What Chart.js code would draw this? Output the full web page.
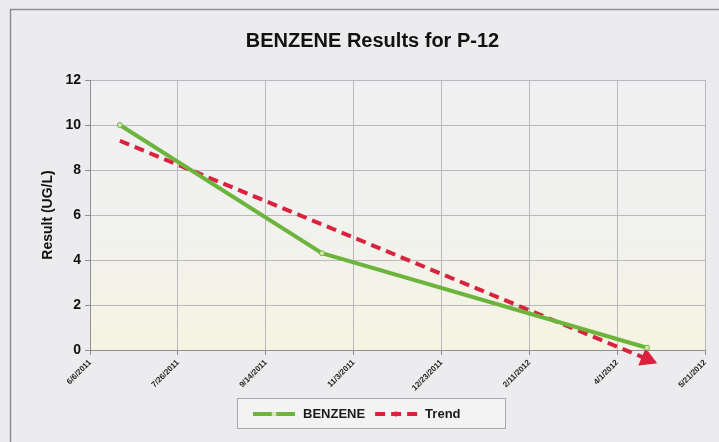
<!DOCTYPE html>
<html>
<head>
<meta charset="utf-8">
<script src="https://cdn.jsdelivr.net/npm/chart.js@4/dist/chart.umd.min.js"></script>
<style>
  html, body { margin: 0; padding: 0; background: #ededef; }
  #wrap { width: 719px; height: 442px; position: relative; }
</style>
</head>
<body>
<div id="wrap"><canvas id="myChart" width="719" height="442"></canvas></div>
<script>
const ctx = document.getElementById('myChart');

// axis starts on 6/6/2011, ticks every 50 days
const startDate = new Date(2011, 5, 6);
const tickStep = 50;
const tickCount = 7;

const benzeneDates = ['2011-06-23', '2011-10-16', '2012-04-18'];
const benzeneValues = [10, 4.3, 0.1];

const trendDates = ['2011-06-23', '2012-04-18'];
const trendValues = [9.3, -0.4];

const yTicks = [0, 2, 4, 6, 8, 10, 12];

const dayOf = function (s) {
    const p = s.split('-');
    const d = new Date(+p[0], +p[1] - 1, +p[2]);
    return Math.round((d - startDate) / 86400000);
};

const fmtDay = function (n) {
    const d = new Date(startDate.getTime() + n * 86400000);
    return (d.getMonth() + 1) + '/' + d.getDate() + '/' + d.getFullYear();
};

const toPoints = (dates, vals) => dates.map((d, i) => ({ x: dayOf(d), y: vals[i] }));

// plot background + frame
const bgPlugin = {
    id: 'bg',
    beforeDraw(chart) {
        const c = chart.ctx;
        const a = chart.chartArea;
        c.save();
        c.fillStyle = '#ececee';
        c.fillRect(0, 0, chart.width, chart.height);
        c.strokeStyle = '#8e8e92';
        c.lineWidth = 1.5;
        c.beginPath();
        c.moveTo(10.5, chart.height);
        c.lineTo(10.5, 9.5);
        c.lineTo(chart.width, 9.5);
        c.stroke();
        const g = c.createLinearGradient(0, a.top, 0, a.bottom);
        g.addColorStop(0, '#f0f0f2');
        g.addColorStop(0.5, '#f1f1ef');
        g.addColorStop(1, '#f5f4e2');
        c.fillStyle = g;
        c.fillRect(a.left, a.top, a.right - a.left, a.bottom - a.top);
        c.restore();
    }
};

// boxed legend at the bottom
const legendPlugin = {
    id: 'boxLegend',
    afterDraw(chart) {
        const c = chart.ctx;
        const x0 = 237, y0 = 398, w = 268, h = 30;
        c.save();
        c.fillStyle = '#f3f3f4';
        c.fillRect(x0, y0, w, h);
        c.strokeStyle = '#a8a8ac';
        c.lineWidth = 1;
        c.strokeRect(x0 + 0.5, y0 + 0.5, w, h);
        c.font = 'bold 13px "Liberation Sans", Arial, sans-serif';
        c.textBaseline = 'middle';
        let x = x0 + 16;
        const cy = y0 + h / 2 + 1;
        chart.data.datasets.forEach((ds) => {
            c.strokeStyle = ds.borderColor;
            c.lineWidth = 4;
            c.setLineDash(ds.borderDash || []);
            c.beginPath();
            c.moveTo(x, cy);
            c.lineTo(x + 42, cy);
            c.stroke();
            c.setLineDash([]);
            if (ds.pointRadius) {
                c.fillStyle = ds.pointBackgroundColor;
                c.beginPath();
                c.arc(x + 21, cy, 2.5, 0, Math.PI * 2);
                c.fill();
            }
            c.fillStyle = '#1a1a1a';
            c.fillText(ds.label, x + 50, cy);
            x += 50 + c.measureText(ds.label).width + 10;
        });
        c.restore();
    }
};

const trendPts = toPoints(trendDates, trendValues);

new Chart(ctx, {
    type: 'line',
    data: {
        datasets: [
            {
                label: 'BENZENE',
                data: toPoints(benzeneDates, benzeneValues),
                borderColor: '#6cb43c',
                borderWidth: 4,
                pointRadius: 2.5,
                pointBackgroundColor: '#d6e8b4',
                pointBorderColor: '#6cb43c',
                pointBorderWidth: 1,
                tension: 0,
                clip: false
            },
            {
                label: 'Trend',
                data: trendPts,
                borderColor: '#d8223e',
                borderWidth: 4,
                borderDash: [10, 6],
                pointRadius: trendPts.map((p, i) => i === trendPts.length - 1 ? 7 : 0),
                pointStyle: 'triangle',
                pointRotation: 113,
                pointBackgroundColor: '#d8223e',
                pointBorderColor: '#d8223e',
                tension: 0,
                clip: false
            }
        ]
    },
    options: {
        responsive: false,
        animation: false,
        events: [],
        layout: { padding: { left: 40, right: 14, top: 10, bottom: 50 } },
        plugins: {
            legend: { display: false },
            tooltip: { enabled: false },
            title: {
                display: true,
                text: 'BENZENE Results for P-12',
                color: '#111',
                font: { family: '"Liberation Sans", Arial, sans-serif', size: 20, weight: 'bold' },
                padding: { top: 19, bottom: 27 }
            }
        },
        scales: {
            x: {
                type: 'linear',
                min: 0,
                max: tickStep * tickCount,
                afterBuildTicks(axis) {
                    axis.ticks = [];
                    for (let i = 0; i <= tickCount; i++) axis.ticks.push({ value: i * tickStep });
                },
                afterFit(axis) { axis.height = 42; },
                ticks: {
                    callback: (v) => fmtDay(v),
                    minRotation: 45,
                    maxRotation: 45,
                    color: '#222',
                    font: { family: '"Liberation Sans", Arial, sans-serif', size: 8, weight: 'bold' }
                },
                grid: { color: '#b9b9bd', lineWidth: 1, tickLength: 5, tickColor: '#8e8e92' },
                border: { color: '#8e8e92' }
            },
            y: {
                min: 0,
                max: 12,
                afterBuildTicks(axis) {
                    axis.ticks = yTicks.map(v => ({ value: v }));
                },
                afterFit(axis) { axis.width = 50; },
                title: {
                    display: true,
                    text: 'Result (UG/L)',
                    color: '#111',
                    font: { family: '"Liberation Sans", Arial, sans-serif', size: 14, weight: 'bold' },
                    padding: { top: 0, bottom: 0 }
                },
                ticks: {
                    color: '#111',
                    padding: 4,
                    font: { family: '"Liberation Sans", Arial, sans-serif', size: 14, weight: 'bold' }
                },
                grid: { color: '#b9b9bd', lineWidth: 1, tickLength: 5, tickColor: '#8e8e92' },
                border: { color: '#8e8e92' }
            }
        }
    },
    plugins: [bgPlugin, legendPlugin]
});
</script>
</body>
</html>
